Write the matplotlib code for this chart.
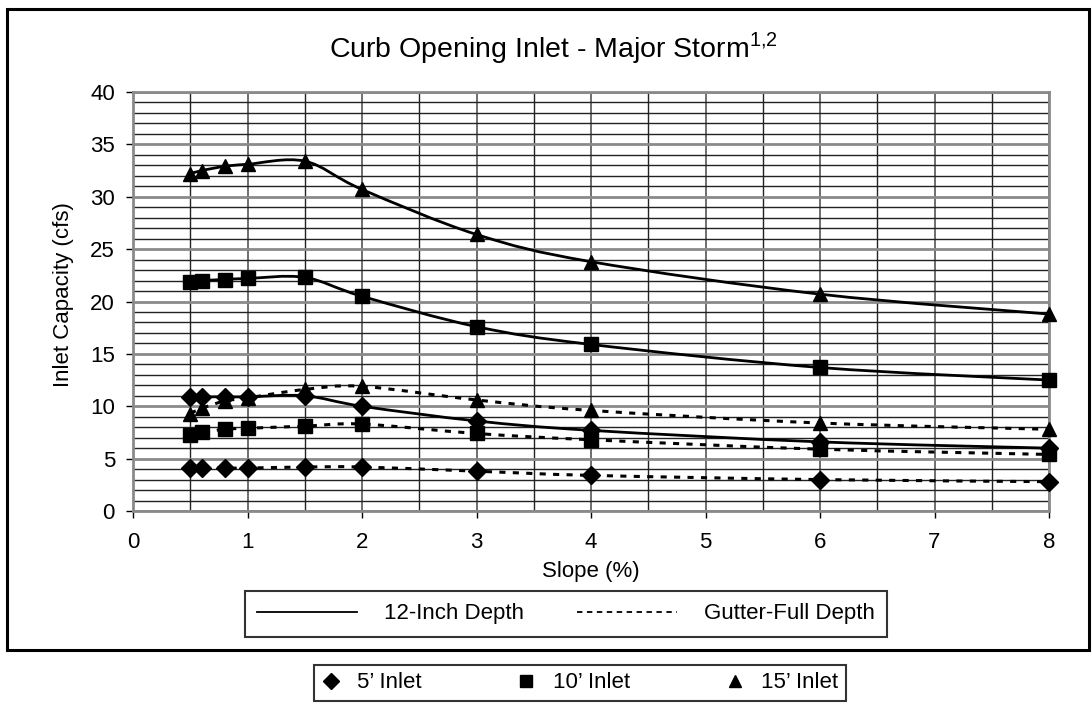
import matplotlib
matplotlib.use("Agg")
import matplotlib.pyplot as plt
import numpy as np
from matplotlib.path import Path
from matplotlib.patches import PathPatch, Rectangle
from matplotlib.lines import Line2D

plt.rcParams['font.family'] = ['Liberation Sans', 'DejaVu Sans']
plt.rcParams['mathtext.fontset'] = 'custom'
plt.rcParams['mathtext.rm'] = 'Liberation Sans'

slope = [0.5, 0.6, 0.8, 1, 1.5, 2, 3, 4, 6, 8]

# 12-inch depth (solid)
inlet15_12in = [32.2, 32.5, 32.9, 33.1, 33.4, 30.7, 26.4, 23.8, 20.7, 18.8]
inlet10_12in = [21.9, 22.0, 22.1, 22.2, 22.3, 20.5, 17.6, 15.9, 13.7, 12.5]
inlet5_12in = [10.9, 10.9, 10.9, 10.9, 11.0, 10.0, 8.6, 7.7, 6.6, 6.0]

# gutter-full depth (dashed)
inlet15_gut = [9.3, 9.8, 10.5, 10.8, 11.6, 11.9, 10.6, 9.6, 8.4, 7.8]
inlet10_gut = [7.3, 7.5, 7.8, 7.9, 8.1, 8.3, 7.4, 6.8, 5.9, 5.4]
inlet5_gut = [4.1, 4.1, 4.1, 4.1, 4.2, 4.2, 3.8, 3.4, 3.0, 2.8]

seriesList = [
    (inlet5_12in, 'D', 'solid'),
    (inlet10_12in, 's', 'solid'),
    (inlet15_12in, '^', 'solid'),
    (inlet5_gut, 'D', 'dash'),
    (inlet10_gut, 's', 'dash'),
    (inlet15_gut, '^', 'dash'),
]


def smoothPath(xs, ys):
    # excel style smoothed line, bezier through the points
    pts = np.column_stack([xs, ys]).astype(float)
    verts = [pts[0]]
    codes = [Path.MOVETO]
    n = len(pts)
    for i in range(n - 1):
        p0 = pts[i - 1] if i > 0 else pts[i]
        p1 = pts[i]
        p2 = pts[i + 1]
        p3 = pts[i + 2] if i + 2 < n else pts[i + 1]
        c1 = p1 + (p2 - p0) / 6.0
        c2 = p2 - (p3 - p1) / 6.0
        verts += [c1, c2, p2]
        codes += [Path.CURVE4] * 3
    return Path(verts, codes)


W, H = 1092, 704
fig = plt.figure(figsize=(W / 100, H / 100), dpi=100)
ax = fig.add_axes([133 / W, 1 - 511 / H, (1049 - 133) / W, (511 - 92) / H])

for values, marker, style in seriesList:
    if style == 'solid':
        patch = PathPatch(smoothPath(slope, values), fill=False, edgecolor='black', lw=2, zorder=3)
    else:
        patch = PathPatch(smoothPath(slope, values), fill=False, edgecolor='black', lw=2.2,
                          linestyle=(0, (2.0, 2.4)), zorder=3)
    ax.add_patch(patch)
    msize = 10.5 if marker != 'D' else 9.5
    ax.plot(slope, values, linestyle='none', marker=marker, color='black', markersize=msize,
            zorder=4, clip_on=False)

ax.set_xlim(0, 8)
ax.set_ylim(0, 40)
ax.set_xticks(range(0, 9))
ax.set_yticks(range(0, 41, 5))
ax.set_xticks(np.arange(0, 8.01, 0.5), minor=True)
ax.set_yticks(range(0, 41), minor=True)
ax.tick_params(axis='both', which='major', labelsize=16, direction='out', length=5, width=1, color='black')
ax.tick_params(axis='both', which='minor', length=0)
ax.tick_params(axis='x', pad=10)
ax.tick_params(axis='y', pad=8)

ax.grid(True, which='minor', color='#222222', lw=1.0, zorder=1)
ax.grid(True, which='major', axis='x', color='#555555', lw=1.2, zorder=1)
ax.grid(True, which='major', axis='y', color='#8a8a8a', lw=2.0, zorder=1)
ax.set_axisbelow(True)
for side in ax.spines:
    ax.spines[side].set_color('#8a8a8a')
    ax.spines[side].set_linewidth(2)

ax.set_xlabel('Slope (%)', fontsize=16, va='center')
ax.xaxis.set_label_coords((591 - 133) / (1049 - 133), -(571 - 511) / (511 - 92))
ax.set_ylabel('Inlet Capacity (cfs)', fontsize=16, va='center')
ax.yaxis.set_label_coords(-(133 - 63) / (1049 - 133), (511 - 295) / (511 - 92))

fig.text(553 / W, 1 - 57 / H, 'Curb Opening Inlet - Major Storm$^{\\mathrm{1{,}2}}$',
         ha='center', va='baseline', fontsize=20.5)

# outer frame
fig.patches.append(Rectangle((7 / W, 1 - 650 / H), (1089 - 7) / W, (650 - 9) / H,
                             transform=fig.transFigure, fill=False, edgecolor='black', lw=2.2))

depthHandles = [Line2D([], [], color='black', lw=1.3),
                Line2D([], [], color='black', lw=1.3, linestyle=(0, (3, 2.5)))]
leg1 = fig.legend(depthHandles, ['12-Inch Depth', 'Gutter-Full Depth'], ncol=2,
                  loc='center', bbox_to_anchor=(566 / W, 1 - 614 / H),
                  fontsize=16, frameon=True, fancybox=False, edgecolor='black',
                  handlelength=4.5, columnspacing=2.4, handletextpad=1.2,
                  borderpad=0.55)
leg1.get_frame().set_linewidth(1.5)

inletHandles = [Line2D([], [], color='black', marker='D', linestyle='none', markersize=8),
                Line2D([], [], color='black', marker='s', linestyle='none', markersize=8),
                Line2D([], [], color='black', marker='^', linestyle='none', markersize=8)]
leg2 = fig.legend(inletHandles, ["5\u2019 Inlet", "10\u2019 Inlet", "15\u2019 Inlet"], ncol=3,
                  loc='center', bbox_to_anchor=(580 / W, 1 - 683 / H),
                  fontsize=16, frameon=True, fancybox=False, edgecolor='black',
                  handlelength=0.8, columnspacing=4.3, handletextpad=0.8,
                  borderpad=0.35)
leg2.get_frame().set_linewidth(1.5)

fig.savefig('out.png', dpi=100)
